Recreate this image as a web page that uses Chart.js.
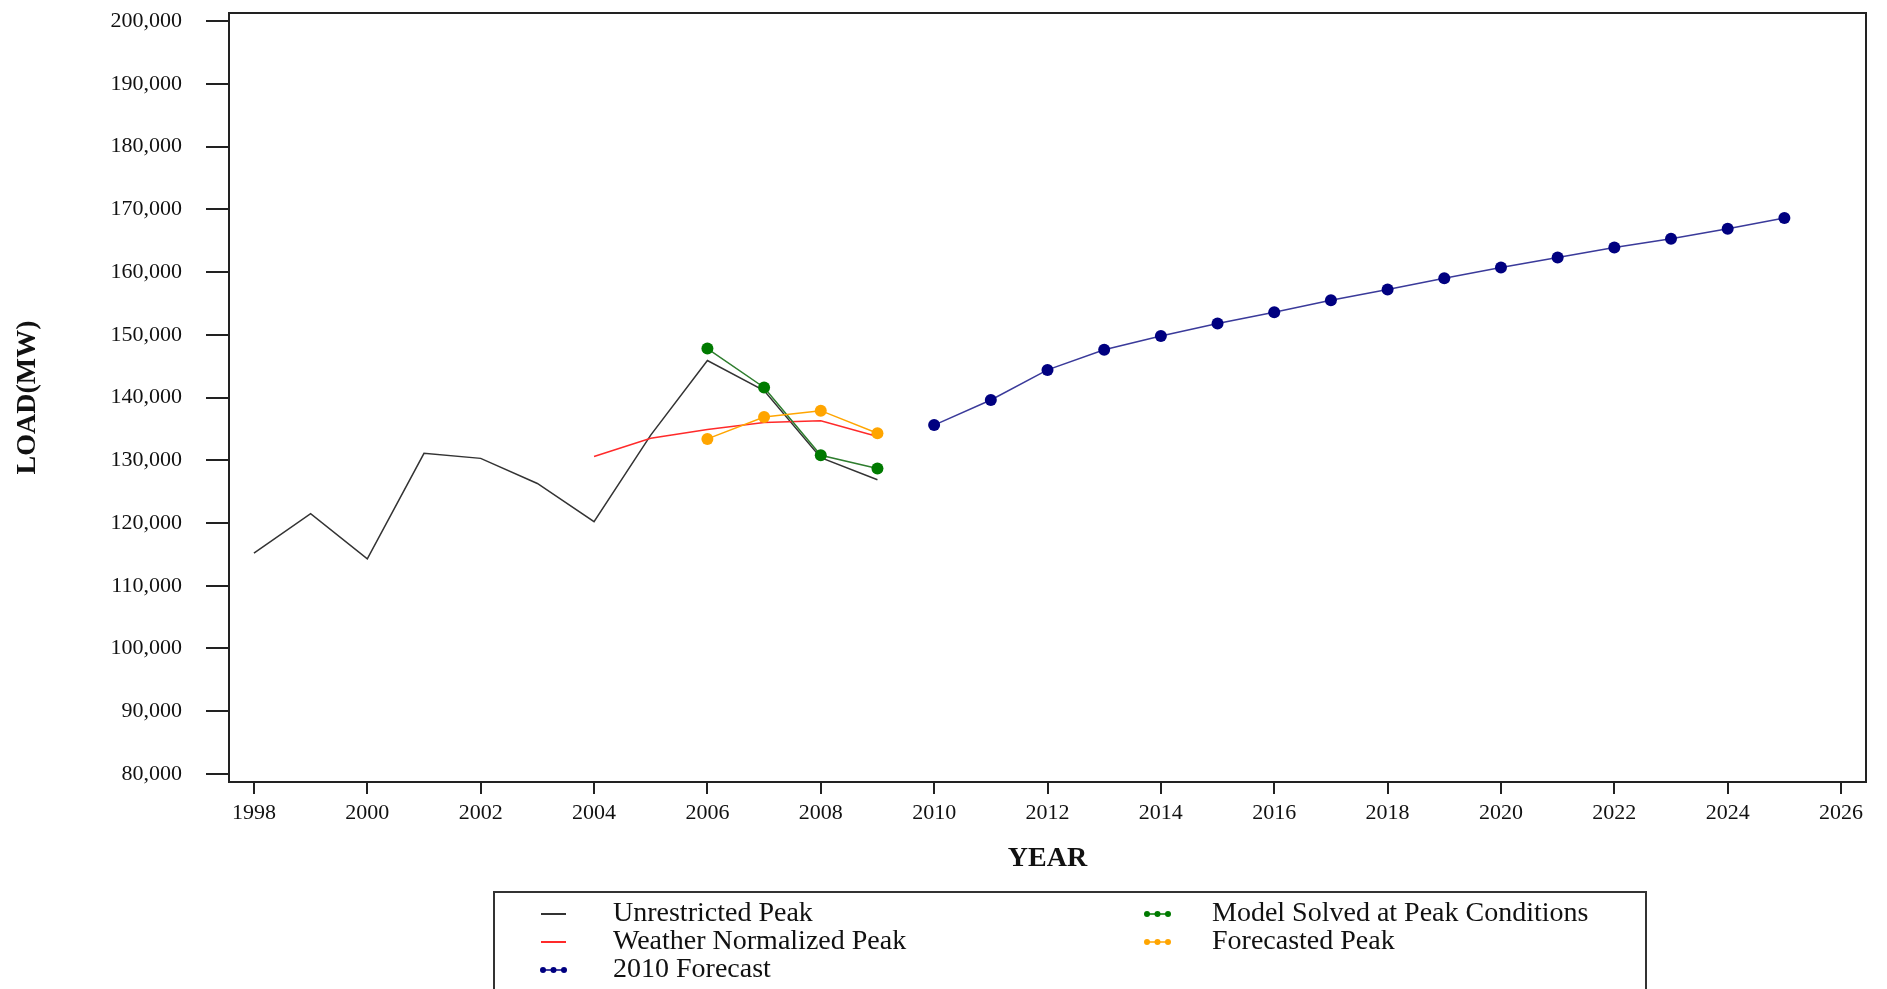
<!DOCTYPE html>
<html>
<head>
<meta charset="utf-8">
<script src="https://cdn.jsdelivr.net/npm/chart.js@4"></script>
<style>
    body { margin: 0; background: #fff; }
    #wrap { width: 1887px; height: 989px; }
</style>
</head>
<body>
<div id="wrap"><canvas id="loadChart"></canvas></div>
<script>
// data
const histYears = [1998, 1999, 2000, 2001, 2002, 2003, 2004, 2005, 2006, 2007, 2008, 2009];
const unrestrictedPeak = [115200, 121500, 114300, 131100, 130300, 126300, 120200, 134000, 145900, 141100, 130400, 126900];

const weatherYears = [2004, 2005, 2006, 2007, 2008, 2009];
const weatherNormalized = [130600, 133500, 134900, 136000, 136300, 133800];

const modelYears = [2006, 2007, 2008, 2009];
const modelSolved = [147800, 141600, 130800, 128700];
const forecastedPeak = [133400, 136900, 137900, 134300];

const forecastYears = [2010, 2011, 2012, 2013, 2014, 2015, 2016, 2017, 2018, 2019, 2020, 2021, 2022, 2023, 2024, 2025];
const forecast2010 = [135600, 139600, 144400, 147600, 149800, 151800, 153600, 155500, 157200, 159000, 160700, 162300, 163900, 165300, 166900, 168600];

const xTickValues = [1998, 2000, 2002, 2004, 2006, 2008, 2010, 2012, 2014, 2016, 2018, 2020, 2022, 2024, 2026];
const yTickValues = [80000, 90000, 100000, 110000, 120000, 130000, 140000, 150000, 160000, 170000, 180000, 190000, 200000];

const serif = '"Liberation Serif", "Times New Roman", serif';

function toPoints(xs, ys) {
    return xs.map((x, i) => ({ x: x, y: ys[i] }));
}

// box around the plot area
const framePlugin = {
    id: 'frame',
    afterDraw(chart) {
        const { ctx, chartArea: a } = chart;
        ctx.save();
        ctx.strokeStyle = '#222';
        ctx.lineWidth = 2;
        ctx.strokeRect(a.left, a.top, a.right - a.left, a.bottom - a.top);
        ctx.restore();
    }
};

// boxed legend under the chart, two columns of three rows
const boxLegendPlugin = {
    id: 'boxLegend',
    afterDraw(chart) {
        const ctx = chart.ctx;
        const colX = [541, 1145];
        const textX = [613, 1212];
        const rowY0 = 914, rowStep = 28;
        ctx.save();
        ctx.strokeStyle = '#333';
        ctx.lineWidth = 2;
        ctx.strokeRect(494, 892, 1152, 120);
        ctx.font = '28px ' + serif;
        ctx.textBaseline = 'middle';
        chart.data.datasets.forEach((ds, i) => {
            const col = Math.floor(i / 3);
            const row = i % 3;
            const x = colX[col];
            const y = rowY0 + row * rowStep;
            if (ds.pointRadius > 0) {
                ctx.strokeStyle = ds.pointBackgroundColor;
                ctx.lineWidth = 1.5;
                ctx.beginPath();
                ctx.moveTo(x, y);
                ctx.lineTo(x + 25, y);
                ctx.stroke();
                ctx.fillStyle = ds.pointBackgroundColor;
                [2, 12.5, 23].forEach(dx => {
                    ctx.beginPath();
                    ctx.arc(x + dx, y, 3, 0, Math.PI * 2);
                    ctx.fill();
                });
            } else {
                ctx.strokeStyle = ds.borderColor;
                ctx.lineWidth = 2;
                ctx.beginPath();
                ctx.moveTo(x, y);
                ctx.lineTo(x + 25, y);
                ctx.stroke();
            }
            ctx.fillStyle = '#111';
            ctx.fillText(ds.label, textX[col], y);
        });
        ctx.restore();
    }
};

new Chart(document.getElementById('loadChart'), {
    type: 'line',
    data: {
        datasets: [
            {
                label: 'Unrestricted Peak',
                data: toPoints(histYears, unrestrictedPeak),
                borderColor: '#333333',
                borderWidth: 1.5,
                pointRadius: 0,
                order: 5
            },
            {
                label: 'Weather Normalized Peak',
                data: toPoints(weatherYears, weatherNormalized),
                borderColor: '#ff2a2a',
                borderWidth: 1.5,
                pointRadius: 0,
                order: 4
            },
            {
                label: '2010 Forecast',
                data: toPoints(forecastYears, forecast2010),
                borderColor: '#3a3a9a',
                borderWidth: 1.5,
                pointRadius: 6,
                pointBackgroundColor: '#000080',
                pointBorderColor: '#000080',
                pointBorderWidth: 0,
                order: 3
            },
            {
                label: 'Model Solved at Peak Conditions',
                data: toPoints(modelYears, modelSolved),
                borderColor: '#2e7d2e',
                borderWidth: 1.5,
                pointRadius: 6,
                pointBackgroundColor: '#007a00',
                pointBorderColor: '#007a00',
                pointBorderWidth: 0,
                order: 2
            },
            {
                label: 'Forecasted Peak',
                data: toPoints(modelYears, forecastedPeak),
                borderColor: '#ffa500',
                borderWidth: 1.5,
                pointRadius: 6,
                pointBackgroundColor: '#ffa500',
                pointBorderColor: '#ffa500',
                pointBorderWidth: 0,
                order: 1
            }
        ]
    },
    options: {
        responsive: true,
        maintainAspectRatio: false,
        devicePixelRatio: 1,
        animation: false,
        layout: { padding: { top: 13, right: 21, left: 0, bottom: 0 } },
        plugins: {
            legend: { display: false },
            tooltip: { enabled: false }
        },
        scales: {
            x: {
                type: 'linear',
                min: 1997.56,
                max: 2026.44,
                afterBuildTicks: s => { s.ticks = xTickValues.map(v => ({ value: v })); },
                afterFit: s => {
                    s.height = 207;
                    s.paddingLeft = 0;
                    s.paddingRight = 0;
                },
                border: { display: false },
                grid: {
                    drawOnChartArea: false,
                    drawTicks: true,
                    tickLength: 12,
                    color: '#222',
                    lineWidth: 2
                },
                ticks: {
                    padding: 6,
                    color: '#111',
                    maxRotation: 0,
                    autoSkip: false,
                    font: { family: serif, size: 22 },
                    callback: v => String(v)
                },
                title: {
                    display: true,
                    text: 'YEAR',
                    color: '#111',
                    font: { family: serif, size: 28, weight: 'bold' },
                    padding: { top: 0, bottom: 113 }
                }
            },
            y: {
                min: 78725,
                max: 201275,
                afterBuildTicks: s => { s.ticks = yTickValues.map(v => ({ value: v })); },
                afterFit: s => {
                    s.width = 229;
                    s.paddingTop = 0;
                    s.paddingBottom = 0;
                },
                border: { display: false },
                grid: {
                    drawOnChartArea: false,
                    drawTicks: true,
                    tickLength: 23,
                    color: '#222',
                    lineWidth: 2
                },
                ticks: {
                    padding: 24,
                    color: '#111',
                    font: { family: serif, size: 22 },
                    callback: v => v.toLocaleString('en-US')
                },
                title: {
                    display: true,
                    text: 'LOAD(MW)',
                    color: '#111',
                    font: { family: serif, size: 28, weight: 'bold' },
                    padding: { top: 11, bottom: 0 }
                }
            }
        }
    },
    plugins: [framePlugin, boxLegendPlugin]
});
</script>
</body>
</html>
